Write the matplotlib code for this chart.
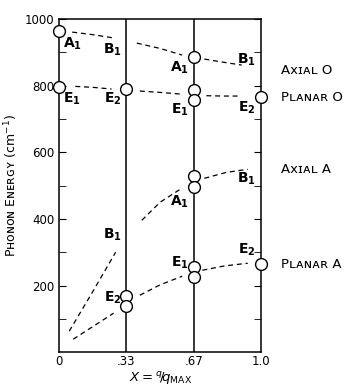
import matplotlib
matplotlib.use('Agg')
import matplotlib.pyplot as plt

# circles (x = q/qmax, energy in cm^-1)
pts_x = [0, 0, 0.33, 0.33, 0.33, 0.67, 0.67, 0.67, 0.67, 0.67, 0.67, 0.67, 1.0, 1.0]
pts_y = [965, 797, 790, 170, 140, 885, 788, 758, 528, 496, 255, 225, 766, 264]

# dashed branches, one list per segment
axial_o = [([0.065, 0.17, 0.275], [961, 953, 943]),
           ([0.385, 0.5, 0.61], [928, 912, 892]),
           ([0.72, 0.82, 0.905], [880, 870, 862])]
planar_o = [([0.08, 0.17, 0.26], [798, 795, 790]),
            ([0.40, 0.5, 0.60], [784, 780, 775]),
            ([0.73, 0.81, 0.89], [770, 769, 769])]
axial_a = [([0.05, 0.165, 0.28], [63, 180, 300]),
           ([0.41, 0.50, 0.60], [396, 450, 489]),
           ([0.72, 0.83, 0.935], [522, 540, 549])]
planar_a = [([0.07, 0.17, 0.27], [39, 78, 117]),
            ([0.40, 0.50, 0.61], [171, 202, 228]),
            ([0.71, 0.82, 0.935], [246, 259, 267])]

# point labels: (letter, subscript, x, y, ha)
labels = [('A', '1', 0.02, 925, 'left'), ('E', '1', 0.02, 760, 'left'),
          ('B', '1', 0.31, 908, 'right'), ('E', '2', 0.31, 760, 'right'),
          ('A', '1', 0.645, 853, 'right'), ('E', '1', 0.645, 727, 'right'),
          ('B', '1', 0.975, 877, 'right'), ('E', '2', 0.975, 733, 'right'),
          ('B', '1', 0.975, 520, 'right'), ('A', '1', 0.645, 450, 'right'),
          ('B', '1', 0.31, 351, 'right'), ('E', '1', 0.645, 267, 'right'),
          ('E', '2', 0.975, 306, 'right'), ('E', '2', 0.31, 162, 'right')]

branch_names = ['Aхɪᴀʟ O', 'Pʟᴀɴᴀʀ O', 'Aхɪᴀʟ A', 'Pʟᴀɴᴀʀ A']
branch_y = [847, 766, 547, 264]

xticks = [0, 0.33, 0.67, 1.0]
xticklabels = ['0', '.33', '.67', '1.0']
yticks = [200, 400, 600, 800, 1000]

fig = plt.figure(figsize=(3.52, 3.9), dpi=100)
ax = fig.add_axes([0.168, 0.097, 0.573, 0.854])
ax.set_xlim(0, 1.0)
ax.set_ylim(0, 1000)

for xv in [0.33, 0.67]:
    ax.axvline(xv, color='black', lw=1.1)

for group in [axial_o, planar_o, axial_a, planar_a]:
    for sx, sy in group:
        ax.plot(sx, sy, color='black', lw=0.9, ls=(0, (4, 3)))

ax.plot(pts_x, pts_y, 'o', ms=8.5, mfc='white', mec='black', mew=1.0,
        ls='none', clip_on=False, zorder=5)

for letter, sub, lx, ly, ha in labels:
    ax.text(lx, ly, r'$\mathbf{%s}_{\mathbf{%s}}$' % (letter, sub),
            ha=ha, va='center', fontsize=10)

for name, by in zip(branch_names, branch_y):
    ax.text(1.1, by, name, ha='left', va='center', fontsize=9.5, clip_on=False)

ax.set_xticks(xticks)
ax.set_xticklabels(xticklabels, fontsize=8.5)
ax.tick_params(axis='x', length=0, pad=2)
ax.set_yticks(yticks)
ax.set_yticks([100, 300, 500, 700, 900], minor=True)
ax.tick_params(axis='y', which='both', direction='in', length=5, labelsize=8.5,
               right=True)

for s in ax.spines.values():
    s.set_linewidth(1.1)

ax.set_ylabel('Pʜᴏɴᴏɴ Eɴᴇʀɢʏ (cm$^{-1}$)', fontsize=9, labelpad=3)
fig.text(0.455, 0.008, r'$X={}^{q}\!/\!{q_{\mathrm{MAX}}}$', fontsize=9.5,
         ha='center', va='bottom')

fig.savefig('out.png', dpi=100)
